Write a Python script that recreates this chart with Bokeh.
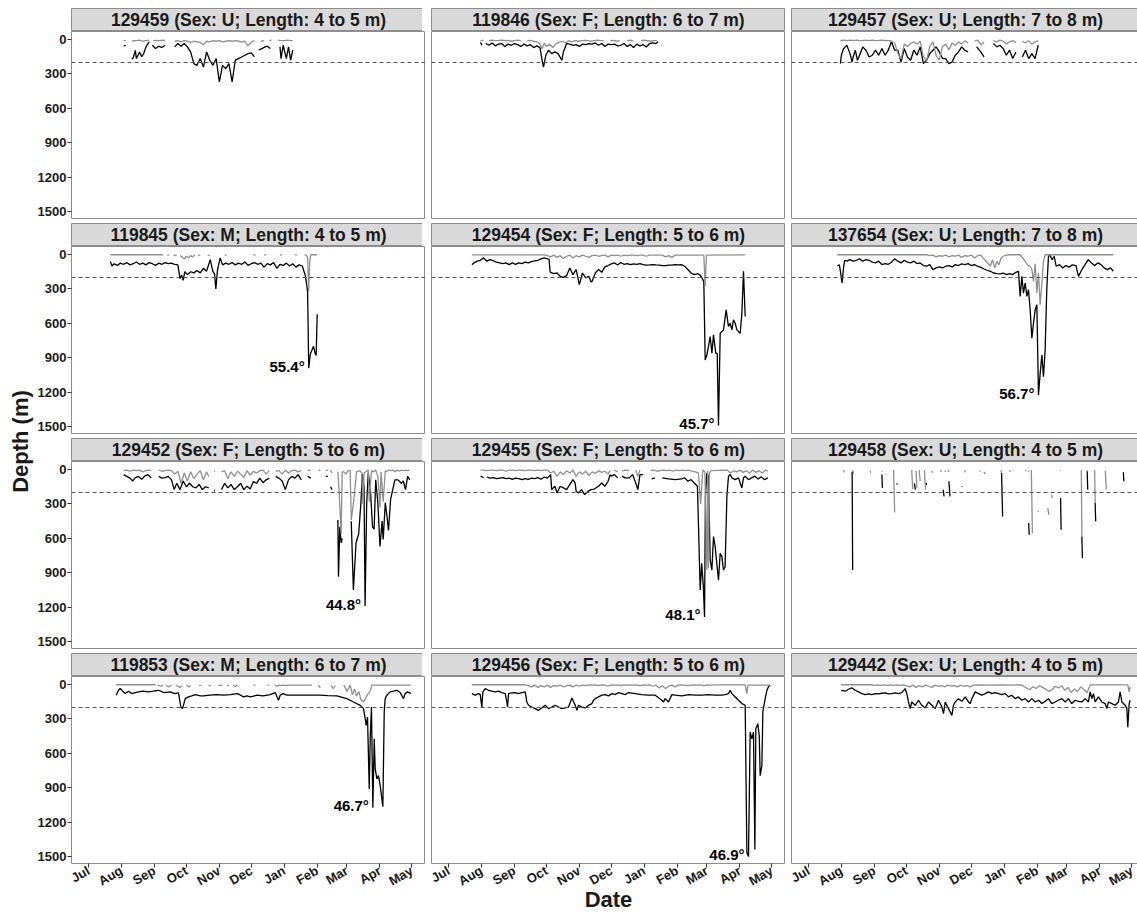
import math
import numpy as np
from datetime import datetime
from bokeh.plotting import figure
from bokeh.models import Range1d, Span, FixedTicker, MonthsTicker, DatetimeTickFormatter, Label
from bokeh.layouts import column, row
from bokeh.embed import file_html
from bokeh.resources import INLINE

# ---------------- data ----------------
# each series: (day since 1 July, depth in m); None = no data (gap)
tags = ["129459", "119846", "129457", "119845", "129454", "137654",
        "129452", "129455", "129458", "119853", "129456", "129442"]
sexes = ["U", "F", "U", "M", "F", "U", "F", "F", "U", "M", "F", "U"]
lengths = ["4 to 5", "6 to 7", "7 to 8", "4 to 5", "5 to 6", "7 to 8",
           "5 to 6", "5 to 6", "4 to 5", "6 to 7", "5 to 6", "4 to 5"]
max_angles = [None, None, None, "55.4°", "45.7°", "56.7°",
              "44.8°", "48.1°", None, "46.7°", "46.9°", None]
depth_ticks = [0, 300, 600, 900, 1200, 1500]
threshold_depth = 200

max_129459 = [(33,55),(35,50),(36,None),(40.7,170),(42,160),(44,95),(45,166),(48,108),(50,150),(52,120),(54,64),(57,20),(58,None),
              (60,50),(63,79),(66,58),(69,70),(72,50),(73,None),(81,64),(84,35),(87,58),(90,35),(93,64),(96,108),(99,210),(102,225),
              (105,166),(108,240),(111,108),(114,181),(117,225),(120,166),(123,370),(126,225),(129,254),(132,210),(135,370),(138,180),
              (141,166),(144,152),(147,137),(150,123),(153,117),(156,152),(157,None),(160,90),(163,79),(166,64),(168,58),(171,79),
              (172,None),(180,64),(181,166),(183,50),(186,166),(188,64),(190,180),(192,93)]
min_129459 = [(33,10),(35,10),(36,None),(41,15),(43,10),(45,10),(48,5),(51,15),(54,10),(57,5),(58,None),(61,10),(64,8),(67,10),
              (70,5),(72,10),(73,None),(81,15),(84,10),(87,20),(90,10),(93,15),(96,25),(99,15),(102,20),(105,25),(108,45),(111,15),
              (114,20),(117,10),(120,15),(123,10),(126,20),(129,15),(132,10),(135,15),(138,10),(141,15),(144,20),(147,15),(150,55),
              (153,20),(156,10),(157,None),(162,15),(165,10),(167,None),(170,10),(172,5),(173,None),(178,5),(181,10),(184,10),
              (187,5),(190,10),(192,10)]

max_119846 = [(30,25),(31.5,50),(32.5,None),(35,35),(38,50),(41,30),(44,55),(47,40),(50,35),(53,60),(56,40),(59,50),(62,35),
              (65,45),(68,60),(71,40),(74,55),(77,45),(80,70),(83,55),(86,70),(87.7,166),(89.3,240),(91.5,137),(94,93),(97,123),
              (100,108),(103,123),(106.5,181),(108,108),(111,35),(114,40),(117,50),(120,45),(123,60),(126,40),(129,45),(132,35),
              (135,40),(138,30),(141,50),(144,35),(147,60),(150,40),(153,45),(156,40),(159,55),(162,50),(165,35),(168,60),(171,45),
              (174,70),(177,40),(180,55),(183,45),(186,65),(189,35),(192,30),(195,35),(197,20)]
min_119846 = [(30,10),(33,5),(34,None),(38,10),(41,5),(44,10),(47,8),(50,5),(53,10),(56,8),(59,15),(62,10),(65,5),(68,10),
              (69,None),(74,10),(77,8),(80,15),(83,20),(86,40),(88,80),(90,30),(92,60),(95,40),(98,70),(101,35),(104,25),(107,15),
              (110,30),(113,10),(116,20),(119,10),(122,15),(125,10),(128,8),(131,10),(134,15),(137,10),(140,5),(143,10),(146,10),
              (147,None),(152,10),(155,8),(158,15),(161,10),(162,None),(168,10),(171,5),(174,15),(175,None),(181,10),(184,5),
              (187,10),(190,15),(193,10),(196,10)]

max_129457 = [(30,210),(31,130),(33,79),(36,50),(39,123),(41,196),(42,150),(44,93),(46,181),(48,137),(51,64),(54,93),(57,152),
              (60,137),(63,93),(66,137),(69,79),(72,137),(75,93),(78,20),(81,93),(84,93),(87,196),(90,79),(93,152),(96,181),
              (99,93),(102,137),(105,64),(108,210),(111,181),(114,123),(117,93),(120,64),(123,108),(126,166),(129,166),(132,210),
              (135,196),(138,137),(141,108),(144,64),(147,93),(150,108),(152,None),(158,64),(162,108),(165,152),(166,None),
              (174,35),(177,64),(180,50),(183,79),(186,137),(189,93),(192,166),(195,108),(197,None),(201,152),(204,93),(207,166),
              (210,123),(213,166),(216,50)]
min_129457 = [(30,10),(33,5),(36,10),(39,5),(42,10),(45,5),(48,10),(51,8),(54,5),(57,10),(60,5),(63,10),(66,8),(69,5),(72,10),
              (75,8),(78,15),(81,30),(84,120),(87,170),(90,40),(93,60),(96,35),(99,20),(102,40),(105,15),(108,150),(111,190),
              (114,60),(117,20),(120,140),(123,180),(126,60),(129,40),(132,90),(135,30),(138,50),(141,20),(144,40),(147,10),
              (150,30),(152,None),(156,15),(159,5),(162,45),(165,25),(166,None),(174,10),(177,20),(180,5),(183,15),(186,40),
              (189,20),(192,10),(195,25),(197,None),(201,15),(204,30),(207,10),(210,40),(213,20),(216,10)]

max_119845 = [(20.5,60),(22,100),(24,80),(27,95),(30,75),(33,85),(36,70),(39,90),(42,80),(45,65),(48,85),(51,75),(54,90),
              (57,70),(60,80),(63,95),(66,75),(69,85),(72,70),(75,80),(78,75),(81,85),(84,90),(86,210),(87.5,180),(89,225),
              (90.5,150),(93,175),(96,150),(99,160),(102,140),(105,160),(108,120),(111,145),(114.4,44),(117,150),(118.5,170),
              (119.7,300),(121.3,131),(123.8,29),(126,90),(129,75),(132,85),(135,70),(138,90),(141,75),(144,85),(147,65),(150,95),
              (153,80),(156,70),(159,85),(162,75),(165,110),(168,80),(171,90),(174,70),(177,120),(180,85),(183,95),(186,75),
              (189,100),(192,80),(195,110),(198,90),(201,100),(204,190),(206,330),(207,990),(208.5,870),(211.5,800),(213,860),
              (214,880),(215,520)]
min_119845 = [(20.5,2),(70,2),(71,None),(74,5),(76,5),(77,None),(80,10),(83,5),(84,None),(86,10),(88,20),(90,40),(92,15),
              (94,30),(96,10),(98,20),(100,5),(101,None),(103,10),(105,5),(106,None),(112,10),(114,5),(115,None),(128,5),(130,5),
              (131,None),(155,3),(157,3),(158,None),(165,3),(167,3),(168,None),(180,3),(182,3),(183,None),(194,3),(196,3),
              (197,None),(203,3),(205,5),(206,30),(207,320),(208,60),(209,2),(215,2)]

max_129454 = [(22,88),(24,73),(27,58),(30,50),(33,29),(36,58),(39,44),(42,53),(45,67),(48,73),(51,79),(54,73),(57,88),(60,73),
              (63,85),(66,73),(69,79),(72,67),(75,73),(78,61),(81,55),(84,50),(87,38),(90,29),(93,38),(94.5,40),(95.5,150),
              (96,155),(99,166),(102,161),(105,190),(108,199),(111,184),(114,117),(117,175),(120,131),(123,263),(126,161),
              (129,204),(132,190),(134,240),(135,234),(138,161),(141,131),(144,155),(147,108),(150,96),(153,82),(156,73),(159,91),
              (162,70),(165,85),(168,79),(171,88),(174,82),(177,85),(180,79),(183,88),(186,93),(189,91),(192,88),(195,91),
              (198,93),(201,96),(204,96),(207,93),(210,93),(213,88),(216,91),(219,88),(222,102),(225,131),(228,161),(231,175),
              (234,166),(237,184),(240,234),(241.3,920),(242.9,876),(246,715),(247.6,861),(249.1,700),(251.3,861),(252.6,861),
              (253.8,1490),(255.4,686),(258.5,657),(261,482),(263.2,628),(264.8,599),(266.4,657),(267.9,569),(269.5,599),
              (271.1,657),(274.2,686),(275.8,511),(277.3,146),(278.9,540)]
min_129454 = [(22,3),(90,3),(93,10),(96,20),(99,5),(102,25),(105,10),(108,35),(111,15),(114,5),(117,30),(120,10),(123,20),
              (126,5),(129,15),(132,25),(135,10),(138,5),(141,15),(144,10),(147,5),(150,20),(153,5),(156,10),(159,5),(162,15),
              (165,5),(168,10),(171,5),(174,5),(177,10),(180,5),(183,5),(186,15),(189,5),(192,5),(195,5),(198,5),(201,5),(204,20),
              (207,10),(210,25),(213,5),(216,5),(219,5),(222,5),(225,5),(228,5),(231,5),(234,5),(237,5),(240,5),(241.3,277),
              (242.5,5),(278.9,3)]

max_137654 = [(27,100),(29,90),(30,146),(31.5,248),(33,110),(34,50),(36,58),(39,44),(42,58),(45,50),(48,38),(51,58),(54,44),
              (57,50),(60,67),(63,73),(66,58),(69,88),(72,79),(75,85),(78,67),(81,38),(84,58),(87,73),(90,50),(93,67),(96,73),
              (99,58),(102,79),(105,73),(108,96),(111,102),(114,88),(117,131),(120,117),(123,108),(126,117),(129,102),(132,96),
              (135,108),(138,88),(141,96),(144,82),(147,88),(150,79),(153,96),(156,88),(159,102),(162,111),(165,126),(168,137),
              (171,146),(174,161),(177,166),(180,169),(183,161),(186,175),(189,166),(192,175),(195,155),(197.4,146),(199,365),
              (200.6,190),(202.1,336),(203.7,248),(205.3,365),(206.8,307),(208.4,482),(210,730),(211.5,599),(213.1,482),
              (214.7,438),(216.2,1226),(217.8,1036),(219.4,876),(220.9,1066),(222.5,832),(224,307),(225.6,15),(227,5),(229,45),
              (231,15),(232.8,102),(236,88),(239,117),(242,96),(245,110),(248,90),(251.5,96),(253.8,190),(255.5,160),(257,131),
              (260,88),(263,44),(266,73),(269,96),(272,73),(275,88),(278,117),(281,131),(284,117),(286.6,146)]
min_137654 = [(27,2),(111,2),(114,10),(117,5),(120,20),(123,10),(126,15),(129,5),(132,20),(135,10),(138,15),(141,5),(144,25),
              (147,10),(150,15),(153,5),(156,30),(159,10),(162,5),(165,40),(168,70),(171,100),(173,45),(175,117),(177,60),(179,90),
              (181,30),(183,15),(186,5),(189,2),(199,2),(203,50),(206,90),(208.4,102),(210,130),(211.5,234),(213.1,80),
              (214.7,336),(216.2,160),(217.8,438),(219.4,250),(220.9,60),(222.5,2),(286.6,2)]

max_129452 = [(33,45),(36,60),(39,75),(41.5,100),(44,70),(47,60),(50,85),(53,55),(56,45),(59,75),(60,None),(66,60),(69,75),
              (72,70),(75,60),(78,90),(80.5,175),(83,120),(86,175),(89,100),(92,150),(95,120),(98,150),(101,160),(104,130),
              (107,175),(110,150),(113,160),(115,None),(118,185),(119,185),(120,None),(125,175),(128,120),(131,160),(134,130),
              (137,175),(140,150),(143,120),(146,175),(149,145),(152,170),(155,105),(158,120),(161,75),(164,115),(167,90),(170,75),
              (171,None),(176,60),(179,75),(182,100),(185,175),(188,90),(191,60),(194,75),(197,45),(200,90),(201,None),(206,60),
              (209,75),(210,None),(223,60),(225,60),(226,None),(227.5,150),(229,175),(230,None),(234.4,440),(235,934),
              (236.2,500),(237.5,640),(238.5,600),(239.5,None),(247,450),(249,1050),(251.5,640),(254,560),(256,300),(257.5,40),
              (259,150),(260,1190),(261.5,300),(263,29),(265,175),(267,500),(268.5,520),(270,90),(272,290),(274,670),(276,450),
              (277,610),(279,290),(280.5,400),(282,530),(284,260),(286,175),(288,90),(291,90),(294,120),(296,100),(298,175),
              (300,60),(302,90)]
min_129452 = [(33,10),(36,5),(39,15),(42,5),(45,10),(48,5),(51,20),(54,10),(57,5),(59,10),(60,None),(66,5),(69,15),(72,10),
              (75,5),(78,10),(81,40),(84,15),(87,120),(90,30),(93,100),(96,20),(99,80),(102,40),(105,10),(108,90),(111,20),
              (113,60),(115,None),(118,15),(119,15),(120,None),(125,20),(128,10),(131,80),(134,20),(137,60),(140,15),(143,40),
              (146,70),(149,10),(152,50),(155,15),(158,30),(161,10),(164,5),(167,40),(170,10),(171,None),(176,15),(179,10),
              (182,40),(185,5),(188,30),(191,10),(194,5),(197,20),(200,10),(201,None),(206,10),(209,5),(210,None),(216,5),(218,10),
              (219,None),(223,10),(225,5),(226,None),(227.5,5),(229,30),(230,None),(234.4,20),(236.2,300),(237.5,560),(238.5,20),
              (240,20),(242,40),(244,10),(246,10),(247,440),(249,300),(252,20),(255,10),(257,30),(258,300),(259,30),(263,5),
              (264,280),(266,10),(268,20),(270,5),(272,60),(274,330),(275,20),(277,280),(279,10),(280,20),(282,5),(284,10),(286,5),
              (288,20),(290,5),(292,15),(294,5),(296,10),(298,5),(300,10),(302,5)]

max_129455 = [(30,58),(33,70),(35,None),(36,65),(39,75),(42,70),(45,80),(48,75),(51,70),(54,80),(57,75),(60,85),(63,75),
              (66,80),(69,88),(72,80),(75,85),(78,75),(81,80),(84,70),(87,85),(90,65),(93,75),(96,44),(97,175),(100,146),
              (102,204),(105,146),(108,160),(111,175),(114,131),(117,88),(119,117),(120,190),(122,204),(125,175),(128,219),
              (131,190),(134,175),(137,170),(141,146),(144,117),(147,146),(150,102),(152,44),(153,58),(156,44),(159,73),(161,None),
              (163,58),(166,73),(170,73),(173,44),(176,117),(178,175),(180,44),(183,44),(185,None),(191,82),(194,73),(197,None),
              (201,73),(207,82),(213,88),(219,82),(222,73),(225,102),(228,88),(231,117),(234,146),(236.6,1051),(238,818),
              (239.5,1010),(240.7,1285),(241.5,234),(242.9,30),(244.4,60),(246,788),(247.6,876),(249.1,584),(250.7,671),
              (252.2,818),(253.8,964),(255.4,730),(257,760),(258.5,876),(260,850),(261.7,234),(263.2,58),(264.8,44),(266.4,73),
              (269.5,88),(272.6,73),(274.2,117),(275.8,161),(277.3,73),(278.9,58),(282,88),(285,73),(288,58),(291,82),(294,64),
              (297,88),(300.2,73)]
min_129455 = [(30,5),(33,5),(36,10),(39,5),(42,5),(45,10),(48,5),(51,5),(54,15),(57,5),(60,5),(63,10),(66,5),(69,5),(72,10),
              (75,5),(78,5),(81,10),(84,5),(87,10),(90,5),(93,5),(96,30),(99,15),(102,60),(105,20),(108,45),(111,10),(114,30),
              (117,5),(120,60),(123,20),(126,40),(129,15),(132,50),(135,20),(138,35),(141,10),(144,25),(147,15),(150,40),(152,10),
              (153,None),(156,5),(159,20),(161,None),(163,15),(166,5),(170,10),(172,None),(176,5),(178,60),(180,5),(185,None),
              (190,10),(193,5),(196,15),(199,10),(202,5),(205,10),(208,5),(211,15),(214,5),(217,10),(220,5),(223,10),(226,5),
              (229,15),(232,20),(235,30),(237,300),(239,5),(241,20),(242.9,876),(243.6,10),(244.4,860),(245.2,30),(247,10),
              (262,5),(265,30),(268,10),(271,20),(274,5),(277,25),(280,10),(283,30),(286,5),(289,25),(292,10),(295,30),(298,5),
              (300.2,15)]

max_129458 = [(41,20),(41.5,876),(42,None),(69,44),(69.5,160),(70,None),(83,120),(83.5,130),(84,None),(99.5,120),(100.5,175),
              (101,None),(110.5,117),(111,135),(111.5,None),(126.5,175),(127.5,234),(128,None),(132,102),(133,234),(133.5,None),
              (144,146),(144.5,150),(145,None),(181.5,30),(182.5,409),(183,None),(207,467),(207.5,569),(208,None),(237,248),
              (237.5,525),(238,None),(257,584),(257.5,774),(258,None),(262,15),(262.5,175),(263,None),(269.5,292),(270,452),
              (270.5,None),(296,23),(296.5,102)]
min_129458 = [(33,5),(33.5,25),(34,None),(41.5,5),(42.5,40),(43,None),(58,10),(58.5,30),(59,None),(69,10),(69.5,20),(70,None),
              (72.5,40),(73,45),(73.5,None),(80,5),(81,374),(81.5,None),(97,5),(98,170),(98.5,None),(101,10),(102,160),
              (102.5,None),(104,5),(105,100),(105.5,None),(109,5),(110,175),(110.5,None),(116,10),(116.5,30),(117,None),(124,5),
              (125,20),(125.5,None),(128,10),(129,20),(129.5,None),(131,5),(132,20),(132.5,None),(147,5),(147.5,25),(148,None),
              (161,10),(161.5,20),(162,None),(165,20),(166,40),(166.5,None),(181,5),(181.5,30),(182,None),(189,5),(189.5,20),
              (190,None),(192,5),(192.5,10),(193,None),(204,5),(204.5,15),(205,None),(206.5,10),(207,20),(207.5,None),(209.5,5),
              (210.5,555),(211,None),(215.5,360),(216,370),(216.5,None),(225,336),(226,395),(226.5,None),(228.5,220),(229,250),
              (229.5,None),(236.5,5),(237,10),(237.5,None),(256.5,5),(257,584),(257.5,None),(261.5,5),(262,15),(262.5,None),
              (269,5),(269.5,292),(270,None),(279,10),(280,175),(280.5,None)]

max_119853 = [(26,93),(28.2,50),(29.8,35),(32,58),(34.5,79),(37.5,58),(40.7,79),(44,70),(47,64),(51,58),(56.4,64),(61,58),
              (65.8,50),(71,70),(76.8,64),(81,79),(84.6,73),(86.8,196),(88.4,210),(90.9,123),(94,108),(97,99),(100.3,88),(105,99),
              (108.1,99),(114,93),(120.7,88),(127,93),(133.2,88),(140,79),(143,93),(145.7,108),(149,99),(152,108),(155,102),
              (158.3,93),(164,99),(170.8,88),(175.5,70),(178.6,137),(180.2,93),(183,79),(186.5,93),(195,93),(202.1,93),(210,93),
              (217.8,93),(225,96),(233.5,99),(242.9,123),(249.1,152),(255.4,181),(258.5,210),(260.1,298),(261,356),(262.3,283),
              (263.9,911),(264.8,473),(266,196),(267.3,1075),(268.6,473),(269.5,736),(271.1,823),(272.6,794),(274.2,882),
              (275.8,999),(276.7,1065),(278,239),(278.9,123),(280.5,93),(283.6,64),(286.7,58),(289.9,50),(293,70),(296.1,123),
              (297.7,79),(300,64),(303,79)]
min_119853 = [(26,2),(63,2),(64,None),(65,5),(68,15),(70,5),(71,None),(73,10),(76,20),(78,5),(79,None),(82,5),(84,15),(86,25),
              (88,10),(89,None),(92,5),(94,20),(96,10),(97,None),(104,5),(106,10),(107,None),(113,5),(115,15),(116,None),(122,5),
              (124,10),(126,5),(127,None),(130,10),(132,5),(133,None),(136,5),(138,20),(140,5),(141,None),(155,5),(157,5),
              (158,None),(168,5),(170,5),(171,None),(175,5),(177,15),(179,5),(181,10),(183,5),(185,10),(187,5),(189,5),(210,5),
              (211,None),(216,5),(218,30),(219,None),(228,5),(230,35),(232,10),(233,None),(240,5),(243,60),(246,5),(248,90),
              (250,40),(252,100),(254,60),(256,130),(258.5,152),(260,130),(262,90),(264.8,60),(266.4,5),(303,5)]

max_129456 = [(21.9,79),(25.1,93),(28.2,79),(29.8,88),(31.3,196),(32.3,64),(34.5,35),(37.6,50),(40.7,58),(43.9,64),(47,58),
              (50.1,70),(53.3,79),(54.8,150),(55.5,196),(56.4,79),(59.5,73),(62.6,70),(65.8,79),(69,70),(72.1,64),(73.6,152),
              (75.2,181),(78.3,196),(81.5,210),(84.6,225),(87.7,204),(90.9,181),(94,210),(97.1,196),(100.3,181),(103.4,196),
              (106.5,210),(109.7,204),(112.8,196),(116,117),(119.1,181),(120.7,225),(122.2,181),(125.4,196),(128.5,204),
              (131.6,181),(134.8,166),(136.3,137),(137.9,123),(141,108),(144.2,93),(147.3,88),(150.4,99),(153.6,79),(156.7,88),
              (159.8,70),(163,79),(166.1,88),(169.2,70),(175.5,79),(181.8,88),(188,93),(194.3,93),(200.6,137),(202.1,152),
              (203.7,123),(206.8,152),(210,88),(213.1,93),(219.4,99),(225.6,88),(231.9,93),(238.2,93),(244.4,88),(250.7,93),
              (257,93),(260.1,88),(263.2,79),(264.8,50),(266.4,79),(269.5,108),(272.6,137),(275.8,166),(278.9,181),(280.5,1466),
              (282,1500),(283.6,415),(285.2,473),(286.7,415),(288,1437),(288.9,385),(290.8,342),(292.1,444),(293,794),
              (294.6,707),(295.5,239),(297.7,123),(299.3,50),(300.8,20),(302.4,6)]
min_129456 = [(21.9,2),(72,2),(75,10),(78,20),(81,5),(84,25),(87,10),(90,20),(93,5),(96,25),(99,10),(102,15),(105,5),(108,20),
              (111,10),(114,5),(117,20),(120,5),(123,15),(126,5),(129,10),(132,3),(135,5),(138,3),(141,10),(144,3),(147,5),
              (150,15),(153,3),(156,5),(159,3),(162,10),(165,3),(168,5),(171,3),(174,5),(177,3),(180,10),(183,3),(186,5),(189,3),
              (192,15),(195,5),(198,30),(201,10),(204,35),(207,15),(210,5),(213,20),(216,5),(219,3),(225,10),(228,5),(231,3),
              (234,5),(237,3),(240,10),(243,3),(246,5),(250,3),(278.9,3),(280.5,79),(281.5,5),(302.4,5)]

max_129442 = [(30.7,50),(34.5,58),(37.6,41),(40.7,29),(43.9,50),(47,64),(50.1,79),(53.3,88),(56.4,82),(59.5,88),(62.6,79),
              (65.8,82),(69,76),(72.1,73),(75.2,82),(78.3,79),(81.5,73),(84.6,79),(87.7,70),(90.9,35),(92.4,79),(94,152),
              (95.6,210),(97.1,152),(100.3,181),(103.4,137),(106.5,181),(109.7,204),(112.8,152),(116,181),(119.1,210),(122.2,137),
              (125.4,196),(126.9,254),(128.5,152),(131.6,210),(134.8,269),(136.3,181),(137.9,152),(141,123),(144.2,146),
              (147.3,108),(150.4,152),(152,166),(153.6,123),(156.7,64),(159.8,79),(163,93),(166.1,79),(169.2,64),(172.3,79),
              (175.5,70),(178.6,79),(181.8,88),(185,79),(188,108),(191,93),(194.3,123),(197.4,108),(200.6,137),(203.7,123),
              (206.8,152),(210,123),(213.1,152),(216.3,137),(219.4,166),(222.5,146),(225.6,123),(228.7,166),(231.9,152),(235,137),
              (238.2,123),(241.3,152),(244.4,123),(247.5,166),(250.7,137),(253.8,146),(257,152),(260,123),(263.2,152),(264.8,64),
              (266.4,123),(267.9,79),(269.5,152),(272.6,108),(275.8,152),(278.9,166),(280.5,210),(282,152),(285.2,166),
              (288.3,181),(291.4,152),(293,64),(294.6,152),(297.7,181),(299.3,210),(300.2,371),(301.5,166),(302.4,137)]
min_129442 = [(30.7,2),(59.5,2),(62,8),(65,3),(68,8),(71,3),(74,8),(77,3),(80,8),(83,3),(86,8),(89,3),(92,10),(95,20),(98,5),
              (101,25),(104,10),(107,20),(110,5),(113,15),(116,25),(119,5),(122,15),(125,10),(128,20),(131,5),(134,15),(137,10),
              (140,20),(143,5),(146,15),(149,10),(152,20),(155,5),(160,3),(170,5),(180,3),(190,5),(200,3),(205,30),(208,45),
              (211,20),(214,35),(217,10),(220,25),(223,40),(226,60),(229,45),(232,15),(235,30),(238,10),(241,50),(244,25),(247,70),
              (250,40),(253,60),(256,20),(259,45),(262,70),(264.8,3),(300.2,3),(301.5,64),(302.4,20)]

max_series = [max_129459, max_119846, max_129457, max_119845, max_129454, max_137654,
              max_129452, max_129455, max_129458, max_119853, max_129456, max_129442]
min_series = [min_129459, min_119846, min_129457, min_119845, min_129454, min_137654,
              min_129452, min_129455, min_129458, min_119853, min_129456, min_129442]

# ---------------- layout / style ----------------
FONT = "Liberation Sans"
DAY = 86400000.0
BASE = (datetime(2014, 7, 1) - datetime(1970, 1, 1)).total_seconds() * 1000.0
X_START = -16.0
X_END = [316.8, 316.8, 311.2]
FW = [354, 354, 348]
LEFT = [34, 6, 6]
TOP_PAD = 8
STRIP_H = 23
FRAME_H = 187
GAP = 5
BOTTOM_H = 48
YT_W = 34
BORDER = "#8c8c8c"


def series_xy(pairs):
    xs = np.array([BASE + d * DAY for d, _ in pairs], dtype=float)
    ys = np.array([np.nan if v is None else v for _, v in pairs], dtype=float)
    return xs, ys


def style_axis(ax, standoff):
    ax.major_tick_out = 4
    ax.major_tick_in = 0
    ax.minor_tick_out = 0
    ax.minor_tick_in = 0
    ax.axis_line_color = None
    ax.major_tick_line_color = "#333333"
    ax.major_label_standoff = standoff
    ax.major_label_text_font = FONT
    ax.major_label_text_font_size = "13px"
    ax.major_label_text_font_style = "bold"
    ax.major_label_text_color = "#1a1a1a"


rows = []
for r in range(4):
    cells = []
    for c in range(3):
        i = r * 3 + c
        strip = figure(frame_width=FW[c], frame_height=STRIP_H, x_range=Range1d(0, 1), y_range=Range1d(0, 1),
                       x_axis_location=None, y_axis_location=None, toolbar_location=None, output_backend="svg",
                       min_border_left=LEFT[c], min_border_right=0,
                       min_border_top=TOP_PAD if r == 0 else 0, min_border_bottom=0,
                       background_fill_color="#d9d9d9", border_fill_color="white", outline_line_color=BORDER)
        strip.grid.visible = False
        strip.add_layout(Label(x=0.5, y=0.5, text=f"{tags[i]} (Sex: {sexes[i]}; Length: {lengths[i]} m)",
                               text_align="center", text_baseline="middle", text_font=FONT,
                               text_font_size="17.5px", text_font_style="bold", text_color="#1a1a1a"))

        bottom = (r == 3)
        p = figure(x_axis_type="datetime", frame_width=FW[c], frame_height=FRAME_H,
                   x_range=Range1d(BASE + X_START * DAY, BASE + X_END[c] * DAY),
                   y_range=Range1d(1560, -70),
                   x_axis_location="below" if bottom else None,
                   y_axis_location="left" if c == 0 else None,
                   toolbar_location=None, output_backend="svg",
                   min_border_left=LEFT[c], min_border_right=0, min_border_top=0,
                   min_border_bottom=BOTTOM_H if bottom else GAP,
                   background_fill_color="white", border_fill_color="white", outline_line_color=BORDER)
        p.grid.visible = False

        if c == 0:
            ax = p.yaxis[0]
            ax.ticker = FixedTicker(ticks=depth_ticks)
            style_axis(ax, 1)
        if bottom:
            ax = p.xaxis[0]
            ax.ticker = MonthsTicker(months=list(range(12)))
            ax.formatter = DatetimeTickFormatter(months="%b", days="%b", years="%b")
            ax.major_label_orientation = math.pi / 6
            style_axis(ax, 2)
            if c == 1:
                ax.axis_label = "Date"
                ax.axis_label_standoff = -11
                ax.axis_label_text_font = FONT
                ax.axis_label_text_font_size = "22px"
                ax.axis_label_text_font_style = "bold"
                ax.axis_label_text_color = "#1a1a1a"

        p.add_layout(Span(location=threshold_depth, dimension="width", line_color="#555555",
                          line_dash="4 3", line_width=1.1))

        xs, ys = series_xy(max_series[i])
        p.line(xs, ys, line_color="black", line_width=1.3)
        xs, ys = series_xy(min_series[i])
        p.line(xs, ys, line_color="#8f8f8f", line_width=1.3)

        if max_angles[i] is not None:
            valid = [(d, v) for d, v in max_series[i] if v is not None]
            d_max, v_max = max(valid, key=lambda t: t[1])
            p.add_layout(Label(x=BASE + d_max * DAY, y=v_max, text=max_angles[i], text_align="right",
                               text_baseline="middle", x_offset=-4, y_offset=2, text_font=FONT,
                               text_font_size="15px", text_font_style="bold", text_color="black"))

        cells.append(column(strip, p))
    rows.append(row(*cells))

grid = column(*rows)

YT_H = TOP_PAD + 4 * STRIP_H + 4 * FRAME_H + 3 * GAP
ytitle = figure(width=YT_W, height=YT_H, x_range=Range1d(0, YT_W), y_range=Range1d(0, YT_H),
                x_axis_location=None, y_axis_location=None, toolbar_location=None, output_backend="svg",
                min_border=0, outline_line_color=None, background_fill_color="white", border_fill_color="white")
ytitle.grid.visible = False
ytitle.add_layout(Label(x=20, y=YT_H - 441, text="Depth (m)", angle=math.pi / 2, text_align="center",
                        text_baseline="middle", text_font=FONT, text_font_size="22px", text_font_style="bold",
                        text_color="#1a1a1a"))

layout = row(ytitle, grid)
open("out.html", "w").write(file_html(layout, INLINE))
